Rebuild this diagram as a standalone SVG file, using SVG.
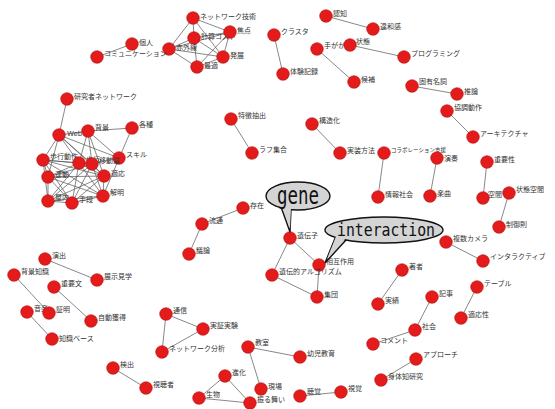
<svg xmlns="http://www.w3.org/2000/svg" width="555" height="409" viewBox="0 0 555 409">
<style>
.e line{stroke:#555;stroke-width:0.7}
.n circle{fill:#e51b1b;stroke:#a81010;stroke-width:0.6}
.n text{font-family:"Noto Sans CJK JP","DejaVu Sans",sans-serif;font-size:7px;fill:#333}
.b{fill:#d4d4d4;stroke:#111;stroke-width:1.4}
.bt{font-family:"DejaVu Sans Mono",monospace;fill:#111}
</style>
<rect width="555" height="409" fill="#fff"/>
<g id="edges" class="e">
<line x1="193" y1="18" x2="194" y2="38"/><line x1="193" y1="18" x2="230" y2="32"/><line x1="193" y1="18" x2="169" y2="49"/><line x1="193" y1="18" x2="223" y2="57"/>
<line x1="230" y1="32" x2="194" y2="38"/><line x1="230" y1="32" x2="169" y2="49"/><line x1="230" y1="32" x2="197" y2="67"/><line x1="230" y1="32" x2="223" y2="57"/>
<line x1="194" y1="38" x2="169" y2="49"/><line x1="194" y1="38" x2="197" y2="67"/><line x1="194" y1="38" x2="223" y2="57"/>
<line x1="169" y1="49" x2="223" y2="57"/><line x1="169" y1="49" x2="197" y2="67"/><line x1="197" y1="67" x2="223" y2="57"/>
<line x1="132" y1="44" x2="97" y2="57"/>
<line x1="326" y1="16" x2="373" y2="29"/><line x1="274" y1="35" x2="283" y2="74"/><line x1="317" y1="49" x2="354" y2="82"/><line x1="350" y1="45" x2="404" y2="57"/><line x1="412" y1="86" x2="457" y2="94"/>
<line x1="447" y1="111" x2="473" y2="137"/><line x1="231" y1="119" x2="252" y2="153"/><line x1="312" y1="124" x2="340" y2="153"/><line x1="384" y1="153" x2="378" y2="197"/><line x1="437" y1="158" x2="430" y2="196"/><line x1="487" y1="162" x2="483" y2="198"/><line x1="509" y1="193" x2="499" y2="227"/>
<line x1="67" y1="99" x2="59" y2="135"/><line x1="88" y1="131" x2="132" y2="128"/><line x1="132" y1="128" x2="103" y2="196"/>
<line x1="59" y1="135" x2="88" y2="131"/><line x1="59" y1="135" x2="43" y2="160"/><line x1="59" y1="135" x2="48" y2="177"/><line x1="59" y1="135" x2="79" y2="163"/><line x1="59" y1="135" x2="92" y2="164"/><line x1="59" y1="135" x2="104" y2="176"/><line x1="59" y1="135" x2="119" y2="158"/>
<line x1="88" y1="131" x2="79" y2="163"/><line x1="88" y1="131" x2="92" y2="164"/><line x1="88" y1="131" x2="119" y2="158"/><line x1="88" y1="131" x2="104" y2="176"/>
<line x1="43" y1="160" x2="79" y2="163"/><line x1="43" y1="160" x2="92" y2="164"/><line x1="43" y1="160" x2="48" y2="177"/><line x1="43" y1="160" x2="104" y2="176"/><line x1="43" y1="160" x2="103" y2="196"/><line x1="43" y1="160" x2="48" y2="201"/><line x1="43" y1="160" x2="72" y2="203"/>
<line x1="79" y1="163" x2="92" y2="164"/><line x1="79" y1="163" x2="48" y2="177"/><line x1="79" y1="163" x2="104" y2="176"/><line x1="79" y1="163" x2="103" y2="196"/><line x1="79" y1="163" x2="48" y2="201"/><line x1="79" y1="163" x2="72" y2="203"/>
<line x1="92" y1="164" x2="48" y2="177"/><line x1="92" y1="164" x2="104" y2="176"/><line x1="92" y1="164" x2="103" y2="196"/><line x1="92" y1="164" x2="48" y2="201"/><line x1="92" y1="164" x2="72" y2="203"/><line x1="92" y1="164" x2="119" y2="158"/>
<line x1="48" y1="177" x2="104" y2="176"/><line x1="48" y1="177" x2="103" y2="196"/><line x1="48" y1="177" x2="48" y2="201"/><line x1="48" y1="177" x2="72" y2="203"/>
<line x1="104" y1="176" x2="103" y2="196"/><line x1="104" y1="176" x2="48" y2="201"/><line x1="104" y1="176" x2="72" y2="203"/>
<line x1="103" y1="196" x2="48" y2="201"/><line x1="103" y1="196" x2="72" y2="203"/><line x1="48" y1="201" x2="72" y2="203"/>
<line x1="243" y1="208" x2="202" y2="224"/><line x1="202" y1="224" x2="189" y2="254"/>
<line x1="290" y1="238" x2="319" y2="265"/><line x1="290" y1="238" x2="272" y2="275"/><line x1="272" y1="275" x2="317" y2="297"/><line x1="319" y1="265" x2="317" y2="297"/>
<line x1="446" y1="242" x2="483" y2="261"/><line x1="402" y1="270" x2="378" y2="304"/><line x1="477" y1="287" x2="461" y2="318"/><line x1="432" y1="297" x2="415" y2="330"/><line x1="415" y1="330" x2="373" y2="344"/><line x1="416" y1="359" x2="381" y2="380"/>
<line x1="248" y1="347" x2="300" y2="357"/><line x1="248" y1="347" x2="261" y2="389"/><line x1="300" y1="396" x2="341" y2="392"/>
<line x1="225" y1="376" x2="199" y2="398"/><line x1="225" y1="376" x2="250" y2="403"/><line x1="199" y1="398" x2="250" y2="403"/>
<line x1="166" y1="314" x2="203" y2="329"/><line x1="166" y1="314" x2="162" y2="352"/><line x1="203" y1="329" x2="162" y2="352"/>
<line x1="113" y1="368" x2="146" y2="388"/>
<line x1="45" y1="259" x2="97" y2="280"/><line x1="14" y1="275" x2="49" y2="313"/><line x1="54" y1="287" x2="91" y2="321"/><line x1="27" y1="312" x2="52" y2="339"/>
</g>
<g id="n_net" class="n"><circle cx="193" cy="18" r="6.3"/><text x="200" y="19">ネットワーク技術</text></g>
<g id="n_cost" class="n"><circle cx="194" cy="38" r="6.3"/><text x="201" y="39">計算コスト</text></g>
<g id="n_focus" class="n"><circle cx="230" cy="32" r="6.3"/><text x="237" y="33">焦点</text></g>
<g id="n_ir" class="n"><circle cx="169" cy="49" r="6.3"/><text x="176" y="50">赤外線</text></g>
<g id="n_dev" class="n"><circle cx="223" cy="57" r="6.3"/><text x="230" y="58">発展</text></g>
<g id="n_opt" class="n"><circle cx="197" cy="67" r="6.3"/><text x="204" y="68">最適</text></g>
<g id="n_ind" class="n"><circle cx="132" cy="44" r="6.3"/><text x="139" y="45">個人</text></g>
<g id="n_comm" class="n"><circle cx="97" cy="57" r="6.3"/><text x="104" y="56">コミュニケーション</text></g>
<g id="n_cog" class="n"><circle cx="326" cy="16" r="6.3"/><text x="333" y="16">認知</text></g>
<g id="n_iwa" class="n"><circle cx="373" cy="29" r="6.3"/><text x="380" y="29">違和感</text></g>
<g id="n_clu" class="n"><circle cx="274" cy="35" r="6.3"/><text x="281" y="34">クラスタ</text></g>
<g id="n_exp" class="n"><circle cx="283" cy="74" r="6.3"/><text x="290" y="74">体験記録</text></g>
<g id="n_hint" class="n"><circle cx="317" cy="49" r="6.3"/><text x="324" y="48">手がかり</text></g>
<g id="n_state" class="n"><circle cx="350" cy="45" r="6.3"/><text x="356" y="44">状態</text></g>
<g id="n_prog" class="n"><circle cx="404" cy="57" r="6.3"/><text x="411" y="56">プログラミング</text></g>
<g id="n_cand" class="n"><circle cx="354" cy="82" r="6.3"/><text x="361" y="82">候補</text></g>
<g id="n_prop" class="n"><circle cx="412" cy="86" r="6.3"/><text x="419" y="84">固有名詞</text></g>
<g id="n_inf" class="n"><circle cx="457" cy="94" r="6.3"/><text x="464" y="94">推論</text></g>
<g id="n_coop" class="n"><circle cx="447" cy="111" r="6.3"/><text x="454" y="110">協調動作</text></g>
<g id="n_arch" class="n"><circle cx="473" cy="137" r="6.3"/><text x="480" y="136">アーキテクチャ</text></g>
<g id="n_feat" class="n"><circle cx="231" cy="119" r="6.3"/><text x="238" y="118">特徴抽出</text></g>
<g id="n_rough" class="n"><circle cx="252" cy="153" r="6.3"/><text x="259" y="152">ラフ集合</text></g>
<g id="n_struct" class="n"><circle cx="312" cy="124" r="6.3"/><text x="319" y="123">構造化</text></g>
<g id="n_impl" class="n"><circle cx="340" cy="153" r="6.3"/><text x="347" y="153">実装方法</text></g>
<g id="n_collab" class="n"><circle cx="384" cy="153" r="6.3"/><text x="391" y="152" style="font-size:5.5px">コラボレーション支援</text></g>
<g id="n_isoc" class="n"><circle cx="378" cy="197" r="6.3"/><text x="385" y="197">情報社会</text></g>
<g id="n_perf" class="n"><circle cx="437" cy="158" r="6.3"/><text x="444" y="161">演奏</text></g>
<g id="n_song" class="n"><circle cx="430" cy="196" r="6.3"/><text x="437" y="196">楽曲</text></g>
<g id="n_imp" class="n"><circle cx="487" cy="162" r="6.3"/><text x="494" y="162">重要性</text></g>
<g id="n_space" class="n"><circle cx="483" cy="198" r="6.3"/><text x="488" y="197">空間</text></g>
<g id="n_sspace" class="n"><circle cx="509" cy="193" r="6.3"/><text x="516" y="192">状態空間</text></g>
<g id="n_ctrl" class="n"><circle cx="499" cy="227" r="6.3"/><text x="506" y="227">制御則</text></g>
<g id="n_res" class="n"><circle cx="67" cy="99" r="6.3"/><text x="74" y="99">研究者ネットワーク</text></g>
<g id="n_web" class="n"><circle cx="59" cy="135" r="6.3"/><text x="67" y="136" style="font-family:'DejaVu Sans',sans-serif">Web</text></g>
<g id="n_bgd" class="n"><circle cx="88" cy="131" r="6.3"/><text x="95" y="130">背景</text></g>
<g id="n_kind" class="n"><circle cx="132" cy="128" r="6.3"/><text x="139" y="127">各種</text></g>
<g id="n_skill" class="n"><circle cx="119" cy="158" r="6.3"/><text x="126" y="157">スキル</text></g>
<g id="n_walk" class="n"><circle cx="43" cy="160" r="6.3"/><text x="50" y="159">歩行動作</text></g>
<g id="n_walk2" class="n"><circle cx="79" cy="163" r="6.3"/><text x="86" y="162">歩行</text></g>
<g id="n_move" class="n"><circle cx="92" cy="164" r="6.3"/><text x="99" y="163">移動量</text></g>
<g id="n_mot" class="n"><circle cx="48" cy="177" r="6.3"/><text x="55" y="177">運動</text></g>
<g id="n_adp" class="n"><circle cx="104" cy="176" r="6.3"/><text x="111" y="176">適応</text></g>
<g id="n_expl" class="n"><circle cx="103" cy="196" r="6.3"/><text x="110" y="195">解明</text></g>
<g id="n_indoor" class="n"><circle cx="48" cy="201" r="6.3"/><text x="55" y="200">屋内</text></g>
<g id="n_means" class="n"><circle cx="72" cy="203" r="6.3"/><text x="79" y="202">手段</text></g>
<g id="n_exist" class="n"><circle cx="243" cy="208" r="6.3"/><text x="250" y="208">存在</text></g>
<g id="n_flow" class="n"><circle cx="202" cy="224" r="6.3"/><text x="209" y="223">流通</text></g>
<g id="n_disc" class="n"><circle cx="189" cy="254" r="6.3"/><text x="196" y="253">議論</text></g>
<g id="n_gene" class="n"><circle cx="290" cy="238" r="6.3"/><text x="297" y="238">遺伝子</text></g>
<g id="n_inter" class="n"><circle cx="319" cy="265" r="6.3"/><text x="326" y="264">相互作用</text></g>
<g id="n_ga" class="n"><circle cx="272" cy="275" r="6.3"/><text x="279" y="274">遺伝的アルゴリズム</text></g>
<g id="n_group" class="n"><circle cx="317" cy="297" r="6.3"/><text x="324" y="297">集団</text></g>
<g id="n_multi" class="n"><circle cx="446" cy="242" r="6.3"/><text x="453" y="241">複数カメラ</text></g>
<g id="n_inta" class="n"><circle cx="483" cy="261" r="6.3"/><text x="490" y="259">インタラクティブ</text></g>
<g id="n_author" class="n"><circle cx="402" cy="270" r="6.3"/><text x="409" y="269">著者</text></g>
<g id="n_record" class="n"><circle cx="378" cy="304" r="6.3"/><text x="385" y="303">実績</text></g>
<g id="n_table" class="n"><circle cx="477" cy="287" r="6.3"/><text x="484" y="286">テーブル</text></g>
<g id="n_art" class="n"><circle cx="432" cy="297" r="6.3"/><text x="439" y="296">記事</text></g>
<g id="n_adapt" class="n"><circle cx="461" cy="318" r="6.3"/><text x="468" y="317">適応性</text></g>
<g id="n_soc" class="n"><circle cx="415" cy="330" r="6.3"/><text x="422" y="329">社会</text></g>
<g id="n_cmt" class="n"><circle cx="373" cy="344" r="6.3"/><text x="380" y="343">コメント</text></g>
<g id="n_appr" class="n"><circle cx="416" cy="359" r="6.3"/><text x="423" y="357">アプローチ</text></g>
<g id="n_body" class="n"><circle cx="381" cy="380" r="6.3"/><text x="388" y="379">身体知研究</text></g>
<g id="n_kids" class="n"><circle cx="300" cy="357" r="6.3"/><text x="307" y="356">幼児教育</text></g>
<g id="n_hear" class="n"><circle cx="300" cy="396" r="6.3"/><text x="307" y="394">聴覚</text></g>
<g id="n_vis" class="n"><circle cx="341" cy="392" r="6.3"/><text x="348" y="391">視覚</text></g>
<g id="n_class" class="n"><circle cx="248" cy="347" r="6.3"/><text x="255" y="345">教室</text></g>
<g id="n_evo" class="n"><circle cx="225" cy="376" r="6.3"/><text x="232" y="375">進化</text></g>
<g id="n_field" class="n"><circle cx="261" cy="389" r="6.3"/><text x="268" y="389">現場</text></g>
<g id="n_bio" class="n"><circle cx="199" cy="398" r="6.3"/><text x="206" y="397">生物</text></g>
<g id="n_beh" class="n"><circle cx="250" cy="403" r="6.3"/><text x="257" y="402">振る舞い</text></g>
<g id="n_tele" class="n"><circle cx="166" cy="314" r="6.3"/><text x="173" y="313">通信</text></g>
<g id="n_demo" class="n"><circle cx="203" cy="329" r="6.3"/><text x="210" y="328">実証実験</text></g>
<g id="n_nwa" class="n"><circle cx="162" cy="352" r="6.3"/><text x="169" y="351">ネットワーク分析</text></g>
<g id="n_det" class="n"><circle cx="113" cy="368" r="6.3"/><text x="120" y="367">検出</text></g>
<g id="n_view" class="n"><circle cx="146" cy="388" r="6.3"/><text x="153" y="387">視聴者</text></g>
<g id="n_enact" class="n"><circle cx="45" cy="259" r="6.3"/><text x="52" y="258">演出</text></g>
<g id="n_exhib" class="n"><circle cx="97" cy="280" r="6.3"/><text x="104" y="279">展示見学</text></g>
<g id="n_bgk" class="n"><circle cx="14" cy="275" r="6.3"/><text x="21" y="274">背景知識</text></g>
<g id="n_key" class="n"><circle cx="54" cy="287" r="6.3"/><text x="61" y="286">重要文</text></g>
<g id="n_auto" class="n"><circle cx="91" cy="321" r="6.3"/><text x="98" y="320">自動獲得</text></g>
<g id="n_mus" class="n"><circle cx="27" cy="312" r="6.3"/><text x="34" y="311">音楽</text></g>
<g id="n_proof" class="n"><circle cx="49" cy="313" r="6.3"/><text x="56" y="312">証明</text></g>
<g id="n_kb" class="n"><circle cx="52" cy="339" r="6.3"/><text x="59" y="341">知識ベース</text></g>
<g id="bubble_gene">
<polygon class="b" points="281,207 291,209 290,232"/>
<ellipse class="b" cx="298" cy="196" rx="32" ry="14"/>
<polygon points="282,205 291,207 290,229" fill="#d4d4d4"/>
<text class="bt" x="277" y="204" font-size="24" textLength="42" lengthAdjust="spacingAndGlyphs">gene</text>
</g>
<g id="bubble_interaction">
<polygon class="b" points="336,236 346,240 325,263"/>
<ellipse class="b" cx="384" cy="230" rx="59" ry="13"/>
<polygon points="337,234 347,237 327,259" fill="#d4d4d4"/>
<text class="bt" x="337" y="236" font-size="18" textLength="98" lengthAdjust="spacingAndGlyphs">interaction</text>
</g>
</svg>
